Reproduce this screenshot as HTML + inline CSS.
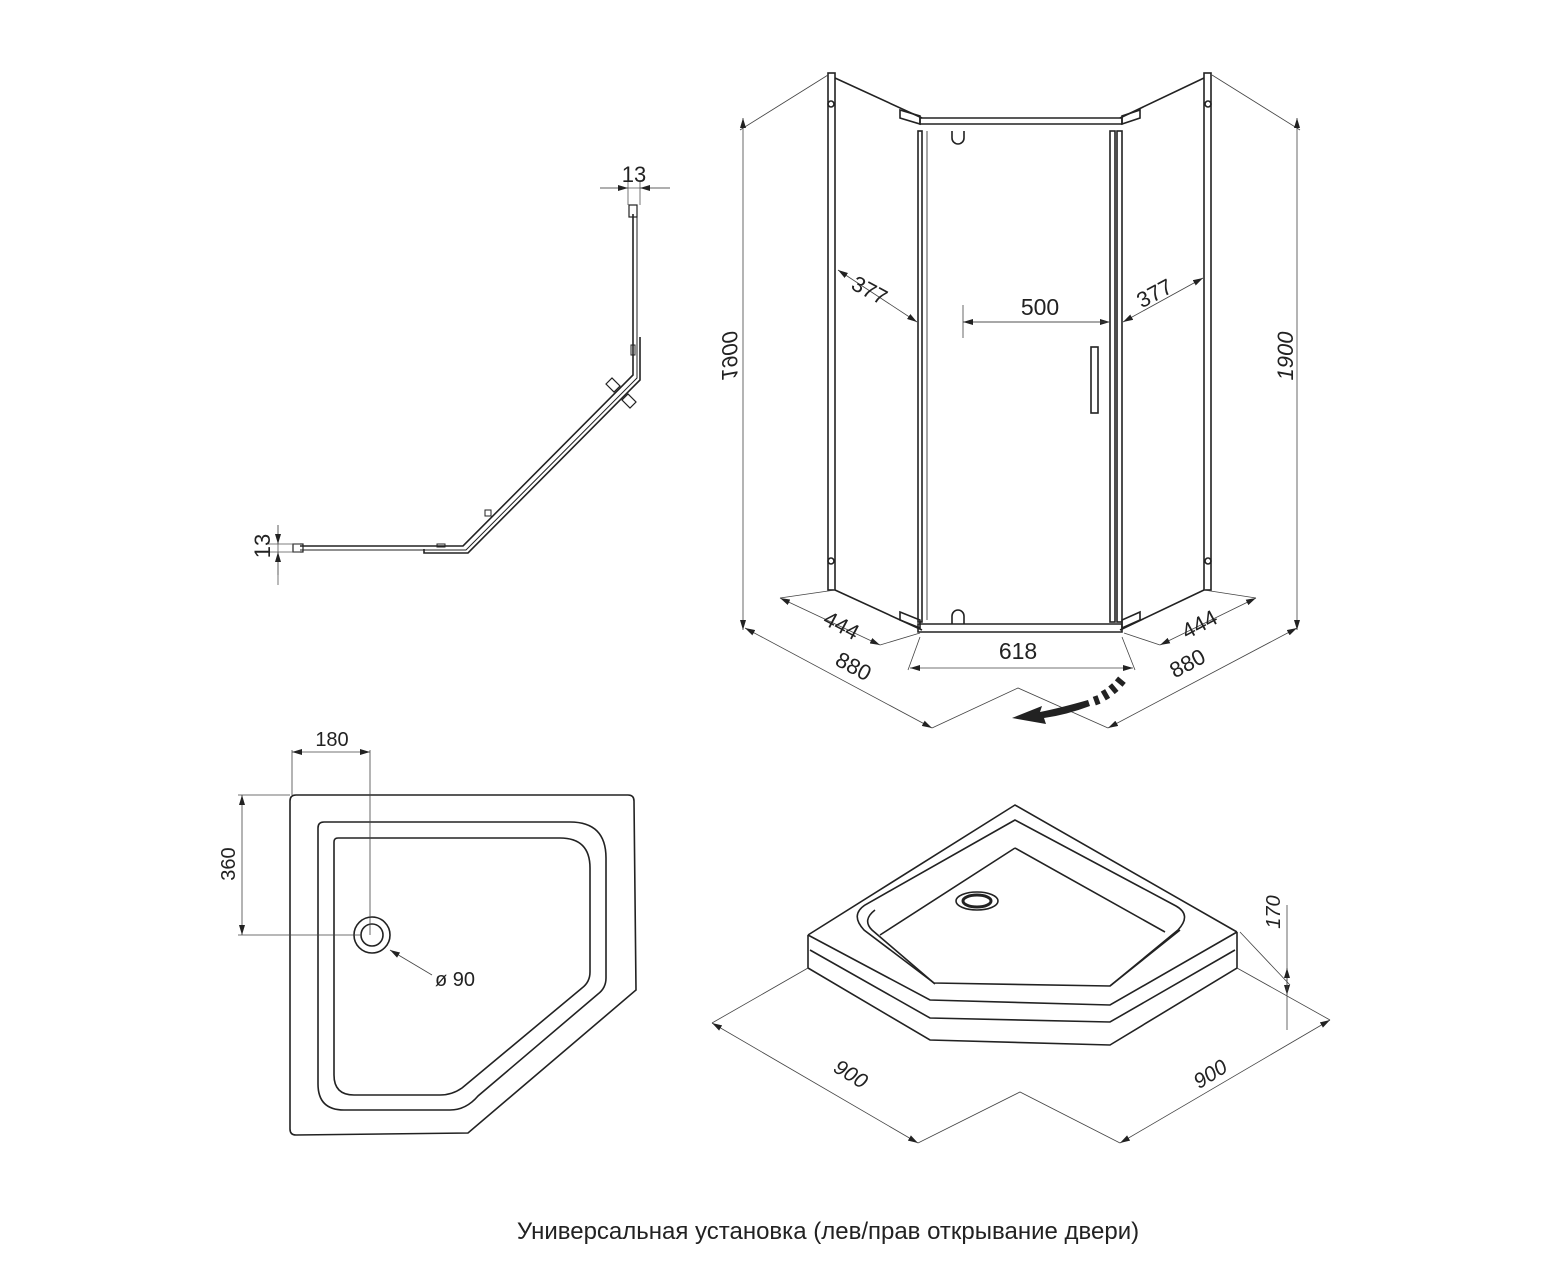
<!DOCTYPE html>
<html><head><meta charset="utf-8"><style>
html,body{margin:0;padding:0;background:#fff}
svg{display:block}
text{font-family:"Liberation Sans",sans-serif;fill:#222}
</style></head><body>
<svg width="1565" height="1280" viewBox="0 0 1565 1280" xmlns="http://www.w3.org/2000/svg">
<defs>
<marker id="a" viewBox="0 0 10 6" refX="10" refY="3" markerWidth="10" markerHeight="6" markerUnits="userSpaceOnUse" orient="auto-start-reverse"><path d="M0,0 L10,3 L0,6 Z" fill="#222"/></marker>
</defs>
<g fill="none" stroke="#222" stroke-width="1.6">
<path d="M633,214 L633,375 L463,546 L300,546"/>
<path d="M637,214 L637,378 L466,550 L300,550" stroke-width="1"/>
<path d="M640,337 L640,380 L468,553 L424,553 L424,549"/>
<rect x="629" y="205" width="8" height="12" stroke-width="1.2"/>
<rect x="293" y="544" width="10" height="8" stroke-width="1.2"/>
<path d="M606,384 l6,-6 l8,8 l-6,6 z M622,400 l6,-6 l8,8 l-6,6 z" stroke-width="1.2"/>
<rect x="631" y="345" width="4" height="10" stroke-width="1"/>
<rect x="437" y="544" width="8" height="3" stroke-width="1"/>
<rect x="485" y="510" width="6" height="6" stroke-width="1"/>
</g>
<g fill="none" stroke="#555" stroke-width="0.8">
<path d="M600,188 L670,188 M628,180 L628,205 M640,180 L640,205"/>
<path d="M278,525 L278,585 M268,544 L300,544 M268,552 L300,552"/>
<path d="M600,188 L628,188" marker-end="url(#a)"/><path d="M670,188 L640,188" marker-end="url(#a)"/>
<path d="M278,525 L278,544" marker-end="url(#a)"/><path d="M278,575 L278,552" marker-end="url(#a)"/>
</g>
<text x="634" y="182" font-size="22" text-anchor="middle">13</text>
<text transform="translate(270,546) rotate(-90)" font-size="22" text-anchor="middle">13</text>

<g fill="none" stroke="#222" stroke-width="1.6">
<rect x="828" y="73" width="7" height="517"/>
<rect x="1204" y="73" width="7" height="517"/>
<path d="M835,78 L922,118 M835,590 L922,630 M1204,78 L1120,118 M1204,590 L1120,630"/>
<path d="M900,110 L920,116 L920,124 L900,118 Z M1140,110 L1122,116 L1122,124 L1140,118 Z"/>
<path d="M900,612 L920,620 L920,628 L900,620 Z M1140,612 L1122,620 L1122,628 L1140,620 Z"/>
<path d="M920,118 L1122,118 L1122,124 L920,124 Z"/>
<path d="M918,624 L1122,624 L1122,632 L918,632 Z"/>
<rect x="918" y="131" width="4" height="491"/>
<path d="M927,131 L927,620" stroke-width="0.8"/>
<rect x="1110" y="131" width="5" height="491"/>
<rect x="1117" y="131" width="5" height="491"/>
<rect x="1091" y="347" width="7" height="66"/>
<path d="M952,131 L952,138 A6,6 0 0 0 964,138 L964,131"/>
<path d="M952,624 L952,616 A6,6 0 0 1 964,616 L964,624"/>
<circle cx="831" cy="104" r="3"/><circle cx="831" cy="561" r="3"/>
<circle cx="1208" cy="104" r="3"/><circle cx="1208" cy="561" r="3"/>
</g>
<g fill="none" stroke="#444" stroke-width="0.8">
<path d="M740,130 L828,75 M1300,130 L1212,75"/>
<path d="M743,118 L743,630" marker-start="url(#a)" marker-end="url(#a)"/>
<path d="M1297,118 L1297,630" marker-start="url(#a)" marker-end="url(#a)"/>
<path d="M838,270 L917,322" marker-start="url(#a)" marker-end="url(#a)"/>
<path d="M1203,278 L1123,322" marker-start="url(#a)" marker-end="url(#a)"/>
<path d="M963,322 L1110,322" marker-end="url(#a)"/><path d="M1110,322 L963,322" marker-end="url(#a)"/>
<path d="M963,305 L963,338"/>
<path d="M910,668 L1133,668" marker-start="url(#a)" marker-end="url(#a)"/>
<path d="M920,637 L908,670 M1122,637 L1135,670"/>
<path d="M780,598 L880,645" marker-start="url(#a)" marker-end="url(#a)"/>
<path d="M880,645 L920,633"/>
<path d="M745,628 L932,728" marker-start="url(#a)" marker-end="url(#a)"/>
<path d="M1256,598 L1160,645" marker-start="url(#a)" marker-end="url(#a)"/>
<path d="M1160,645 L1124,633"/>
<path d="M1297,628 L1108,728" marker-start="url(#a)" marker-end="url(#a)"/>
<path d="M932,728 L1018,688 L1108,728"/>
<path d="M835,590 L780,598 M1204,590 L1256,598"/>
</g>
<path d="M1088,700 Q1060,708 1040,712 L1042,706 L1012,718 L1046,724 L1044,718 Q1066,715 1090,706 Z" fill="#222"/>
<g fill="#222"><rect x="1094" y="696" width="5" height="9" transform="rotate(-20 1096 700)"/><rect x="1103" y="690" width="5" height="10" transform="rotate(-30 1105 695)"/><rect x="1111" y="684" width="5" height="10" transform="rotate(-40 1113 689)"/><rect x="1118" y="677" width="5" height="10" transform="rotate(-50 1120 682)"/></g>
<text transform="translate(722,356) rotate(-90) scale(1,-1)" font-size="22" text-anchor="middle" font-style="italic">1900</text>
<text transform="translate(1293,356) rotate(-90)" font-size="22" text-anchor="middle" font-style="italic">1900</text>
<text transform="translate(866,297) rotate(28)" font-size="22" text-anchor="middle">377</text>
<text transform="translate(1158,300) rotate(-28)" font-size="22" text-anchor="middle">377</text>
<text x="1040" y="315" font-size="23" text-anchor="middle">500</text>
<text x="1018" y="659" font-size="23" text-anchor="middle">618</text>
<text transform="translate(838,632) rotate(28)" font-size="22" text-anchor="middle">444</text>
<text transform="translate(850,673) rotate(28)" font-size="22" text-anchor="middle">880</text>
<text transform="translate(1203,631) rotate(-28)" font-size="22" text-anchor="middle">444</text>
<text transform="translate(1191,670) rotate(-28)" font-size="22" text-anchor="middle">880</text>

<g fill="none" stroke="#222" stroke-width="1.6">
<path d="M296,795 L628,795 Q634,795 634,801 L636,990 L468,1133 L296,1135 Q290,1135 290,1129 L290,801 Q290,795 296,795 Z"/>
<path d="M324,822 L570,822 Q606,822 606,858 L606,978 Q606,988 598,994 L478,1096 Q466,1110 450,1110 L344,1110 Q318,1110 318,1084 L318,828 Q318,822 324,822 Z"/>
<path d="M338,838 L560,838 Q590,838 590,868 L590,972 Q590,982 582,988 L462,1088 Q452,1095 440,1095 L354,1095 Q334,1095 334,1075 L334,842 Q334,838 338,838 Z"/>
<circle cx="372" cy="935" r="18"/><circle cx="372" cy="935" r="11"/>
</g>
<g fill="none" stroke="#444" stroke-width="0.8">
<path d="M292,750 L292,795 M370,750 L370,935 M238,795 L290,795 M238,935 L360,935"/>
<path d="M292,752 L370,752" marker-start="url(#a)" marker-end="url(#a)"/>
<path d="M242,795 L242,935" marker-start="url(#a)" marker-end="url(#a)"/>
<path d="M432,975 L390,950" marker-end="url(#a)"/>
</g>
<text x="332" y="746" font-size="20" text-anchor="middle">180</text>
<text transform="translate(235,864) rotate(-90)" font-size="20" text-anchor="middle">360</text>
<text x="435" y="986" font-size="20">ø 90</text>

<g fill="none" stroke="#222" stroke-width="1.6">
<path d="M808,935 L1015,805 L1237,932"/>
<path d="M808,935 L808,968 L930,1040 L1110,1045 L1237,968 L1237,932"/>
<path d="M808,935 L930,1000 L1110,1005 L1237,932"/>
<path d="M810,950 L930,1018 L1110,1022 L1235,950"/>
<path d="M1015,820 L865,905 Q850,915 864,930 L934,983 L1110,986 L1178,930 Q1192,915 1176,906 Z"/>
<path d="M1015,848 L880,935 M1015,848 L1165,932"/>
<path d="M875,910 Q862,920 872,930 L935,984 M1180,930 L1110,986"/>
<ellipse cx="977" cy="901" rx="21" ry="9"/><ellipse cx="977" cy="901" rx="14" ry="6" stroke-width="3"/>
</g>
<g fill="none" stroke="#444" stroke-width="0.8">
<path d="M808,968 L712,1023 M1237,968 L1330,1020 M1240,932 L1290,985"/>
<path d="M712,1023 L918,1143" marker-start="url(#a)" marker-end="url(#a)"/>
<path d="M1120,1143 L1330,1020" marker-start="url(#a)" marker-end="url(#a)"/>
<path d="M918,1143 L1020,1092 L1120,1143"/>
<path d="M1287,905 L1287,995" marker-end="url(#a)"/>
<path d="M1287,1030 L1287,968" marker-end="url(#a)"/>
</g>
<text transform="translate(847,1080) rotate(32)" font-size="21" text-anchor="middle" font-style="italic">900</text>
<text transform="translate(1214,1080) rotate(-32)" font-size="21" text-anchor="middle" font-style="italic">900</text>
<text transform="translate(1280,912) rotate(-90)" font-size="20" text-anchor="middle" font-style="italic">170</text>

<text x="828" y="1239" font-size="24" text-anchor="middle">Универсальная установка (лев/прав открывание двери)</text>
</svg>
</body></html>
